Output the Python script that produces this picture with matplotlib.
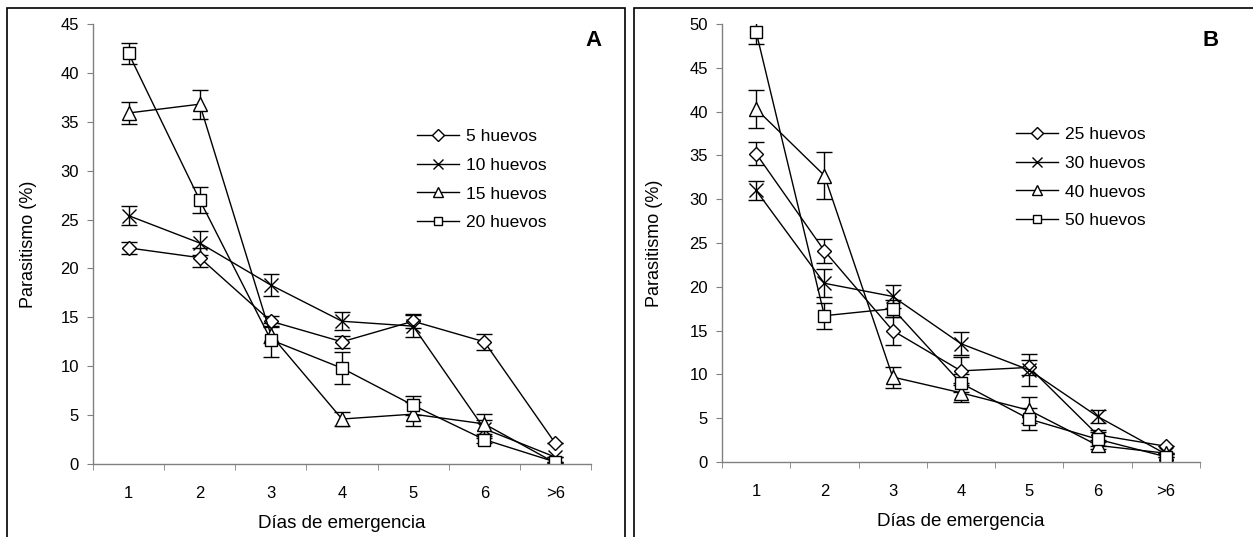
import numpy as np
import matplotlib
matplotlib.use("Agg")
import matplotlib.pyplot as plt
from matplotlib.patches import Rectangle
from matplotlib.transforms import blended_transform_factory

plt.rcParams['font.family'] = ['Liberation Sans', 'DejaVu Sans']

# categorias del eje x
dias = ["1", "2", "3", "4", "5", "6", ">6"]

# Panel A
labels_a = ["5 huevos", "10 huevos", "15 huevos", "20 huevos"]
a_5 = [22.1, 21.1, 14.6, 12.5, 14.6, 12.5, 2.1]
a_5_err = [0.6, 1.0, 0.5, 0.6, 0.7, 0.8, 0.0]
a_10 = [25.4, 22.6, 18.3, 14.6, 14.1, 3.6, 0.7]
a_10_err = [1.0, 1.2, 1.15, 0.9, 1.1, 0.9, 0.0]
a_15 = [35.9, 36.8, 13.2, 4.6, 5.1, 4.1, 0.1]
a_15_err = [1.15, 1.5, 0.8, 0.7, 1.2, 1.0, 0.0]
a_20 = [42.0, 27.0, 12.7, 9.8, 6.0, 2.5, 0.2]
a_20_err = [1.05, 1.35, 1.75, 1.65, 1.0, 0.4, 0.0]

# Panel B
labels_b = ["25 huevos", "30 huevos", "40 huevos", "50 huevos"]
b_25 = [35.2, 24.1, 15.0, 10.4, 10.8, 3.1, 1.8]
b_25_err = [1.35, 1.4, 1.6, 1.6, 0.9, 0.6, 0.0]
b_30 = [31.0, 20.4, 18.9, 13.5, 10.5, 5.2, 0.9]
b_30_err = [1.05, 1.6, 1.3, 1.3, 1.8, 0.75, 0.0]
b_40 = [40.3, 32.7, 9.7, 7.9, 5.9, 1.9, 1.0]
b_40_err = [2.2, 2.65, 1.2, 1.1, 1.5, 0.4, 0.0]
b_50 = [49.1, 16.7, 17.5, 9.0, 4.9, 2.6, 0.6]
b_50_err = [1.35, 1.5, 1.0, 1.0, 1.3, 0.8, 0.0]

markers = ['D', 'x', '^', 's']
msizes = [7.5, 10, 10, 8.5]

W, H = 1253, 537
fig = plt.figure(figsize=(W / 100, H / 100), dpi=100)

# marcos de los paneles
fig.patches.append(Rectangle((7 / W, -0.1), (625 - 7) / W, 1.1 - 8 / H,
                             transform=fig.transFigure, fill=False,
                             edgecolor='black', linewidth=1.2))
fig.patches.append(Rectangle((634 / W, -0.1), 1.0, 1.1 - 8 / H,
                             transform=fig.transFigure, fill=False,
                             edgecolor='black', linewidth=1.2))


def panel(rect, series, errs, labels, ymax, letter, leg_xy, letter_xy, ylabel_x):
    ax = fig.add_axes(rect)
    x = np.arange(len(dias))
    for y, e, lab, m, ms in zip(series, errs, labels, markers, msizes):
        ax.errorbar(x, y, yerr=e, color='black', linewidth=1.0,
                    marker=m, markersize=ms, markerfacecolor='white',
                    markeredgecolor='black', markeredgewidth=1.0,
                    ecolor='black', elinewidth=1.0, capsize=6, capthick=1.0,
                    label=lab)
    ax.set_xlim(-0.5, len(dias) - 0.5)
    ax.set_ylim(0, ymax)
    ax.set_yticks(np.arange(0, ymax + 1, 5))
    ax.set_xticks(x)
    ax.set_xticklabels(dias)
    ax.set_xticks(np.arange(-0.5, len(dias)), minor=True)
    ax.tick_params(axis='x', which='major', length=0, pad=16, labelsize=12)
    ax.tick_params(axis='x', which='minor', length=4, direction='out', color='#808080')
    ax.tick_params(axis='y', length=4, direction='out', color='#808080',
                   labelsize=12, pad=6)
    for s in ['top', 'right']:
        ax.spines[s].set_visible(False)
    for s in ['left', 'bottom']:
        ax.spines[s].set_color('#808080')
        ax.spines[s].set_linewidth(1.0)
    ax.set_ylabel('Parasitismo (%)', fontsize=13)
    ax.yaxis.set_label_coords(ylabel_x / W, 0.5,
                              transform=blended_transform_factory(fig.transFigure, ax.transAxes))
    ax.set_xlabel('Días de emergencia', fontsize=13.5, labelpad=10)
    ax.text(letter_xy[0] / W, 1 - letter_xy[1] / H, letter, transform=fig.transFigure,
            fontsize=16, fontweight='bold', ha='center', va='center')
    h, l = ax.get_legend_handles_labels()
    h = [hh[0] for hh in h]
    ax.legend(h, l, loc='upper left', frameon=False, fontsize=12.5,
              bbox_to_anchor=(leg_xy[0] / W, 1 - leg_xy[1] / H),
              bbox_transform=fig.transFigure, borderpad=0, borderaxespad=0,
              handlelength=2.4, handletextpad=0.4, labelspacing=0.78,
              markerscale=0.75)
    return ax


panel([93 / W, 1 - 464 / H, 498 / W, 440 / H],
      [a_5, a_10, a_15, a_20], [a_5_err, a_10_err, a_15_err, a_20_err],
      labels_a, 45, 'A', (417, 129), (593, 41), 37)
panel([722 / W, 1 - 462 / H, 478 / W, 438 / H],
      [b_25, b_30, b_40, b_50], [b_25_err, b_30_err, b_40_err, b_50_err],
      labels_b, 50, 'B', (1016, 127), (1211, 41), 663)

fig.savefig('out.png', dpi=100)
